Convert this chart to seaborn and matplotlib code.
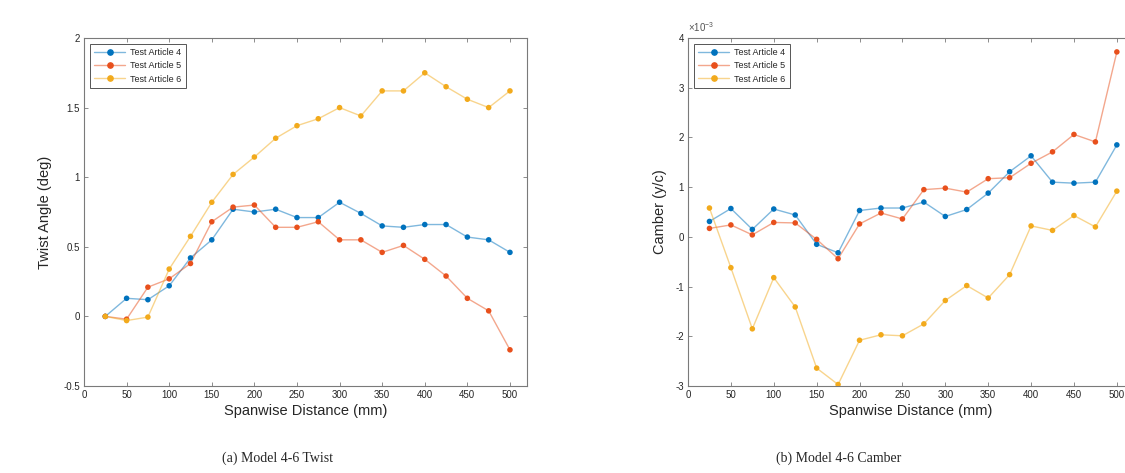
import numpy as np
import pandas as pd
import matplotlib
matplotlib.use("Agg")
import matplotlib.pyplot as plt
from matplotlib.lines import Line2D
from matplotlib.colors import to_rgba
from matplotlib.ticker import FuncFormatter, MultipleLocator
import seaborn as sns

# ---------------- data ----------------
span_mm = [25, 50, 75, 100, 125, 150, 175, 200, 225, 250,
           275, 300, 325, 350, 375, 400, 425, 450, 475, 500]
series_names = ["Test Article 4", "Test Article 5", "Test Article 6"]

twist_ta4 = [0.00, 0.13, 0.12, 0.22, 0.42, 0.55, 0.77, 0.75, 0.77, 0.71,
             0.71, 0.82, 0.74, 0.65, 0.64, 0.66, 0.66, 0.57, 0.55, 0.46]
twist_ta5 = [0.00, -0.02, 0.21, 0.27, 0.38, 0.68, 0.785, 0.80, 0.64, 0.64,
             0.68, 0.55, 0.55, 0.46, 0.51, 0.41, 0.29, 0.13, 0.04, -0.24]
twist_ta6 = [0.00, -0.03, -0.005, 0.34, 0.575, 0.82, 1.02, 1.145, 1.28, 1.37,
             1.42, 1.50, 1.44, 1.62, 1.62, 1.75, 1.65, 1.56, 1.50, 1.62]

camber_ta4 = [0.31, 0.57, 0.15, 0.56, 0.44, -0.15, -0.32, 0.53, 0.58, 0.58,
              0.70, 0.41, 0.55, 0.88, 1.31, 1.63, 1.10, 1.08, 1.10, 1.85]
camber_ta5 = [0.17, 0.24, 0.04, 0.29, 0.28, -0.05, -0.44, 0.26, 0.48, 0.36,
              0.95, 0.98, 0.90, 1.17, 1.19, 1.48, 1.71, 2.06, 1.91, 3.72]
camber_ta6 = [0.58, -0.62, -1.85, -0.82, -1.41, -2.64, -2.97, -2.08, -1.97, -1.99,
              -1.75, -1.28, -0.98, -1.23, -0.76, 0.22, 0.13, 0.43, 0.20, 0.92]
camber_scale = 1e-3

x_ticks = [0, 50, 100, 150, 200, 250, 300, 350, 400, 450, 500]
twist_ticks = [-0.5, 0, 0.5, 1, 1.5, 2]
twist_ticklabels = ["-0.5", "0", "0.5", "1", "1.5", "2"]
captions = ["(a) Model 4-6 Twist", "(b) Model 4-6 Camber"]

colors = ["#0072BD", "#E8501C", "#F2AA1C"]

# ---------------- style ----------------
sns.set_style("white")
plt.rcParams["font.family"] = ["Liberation Sans", "DejaVu Sans"]
plt.rcParams["axes.unicode_minus"] = False
plt.rcParams["mathtext.default"] = "regular"

fig = plt.figure(figsize=(11.25, 4.73), dpi=100)
ax1 = fig.add_axes([84 / 1125, 1 - 386 / 473, 443 / 1125, 348 / 473])
ax2 = fig.add_axes([688 / 1125, 1 - 386 / 473, 446 / 1125, 348 / 473])


def long_df(vals_list, scale=1.0):
    rows = []
    for name, vals in zip(series_names, vals_list):
        for x, v in zip(span_mm, vals):
            rows.append({"x": x, "y": v * scale, "series": name})
    return pd.DataFrame(rows)


df_twist = long_df([twist_ta4, twist_ta5, twist_ta6])
df_camber = long_df([camber_ta4, camber_ta5, camber_ta6], camber_scale)
pal = dict(zip(series_names, colors))

spine_col = "#7a7a7a"
for ax, df in [(ax1, df_twist), (ax2, df_camber)]:
    sns.lineplot(data=df, x="x", y="y", hue="series", palette=pal, ax=ax,
                 linewidth=1.0, alpha=0.5, legend=False, sort=False)
    sns.scatterplot(data=df, x="x", y="y", hue="series", palette=pal, ax=ax,
                    s=16, linewidth=0, legend=False, zorder=3)
    ax.set_xlim(0, 520)
    ax.set_xticks(x_ticks)
    ax.set_xlabel("Spanwise Distance (mm)", fontsize=10.5, color="#262626", labelpad=3)
    ax.tick_params(direction="in", length=3, width=0.6, colors=spine_col,
                   labelcolor="#262626", labelsize=7, top=True, right=True,
                   bottom=True, left=True, pad=3)
    for s in ax.spines.values():
        s.set_color(spine_col)
        s.set_linewidth(0.8)
    handles = [Line2D([0], [0], color=to_rgba(c, 0.5), lw=1.0, marker="o",
                      markersize=3.8, markerfacecolor=c, markeredgecolor=c)
               for c in colors]
    leg = ax.legend(handles, series_names, loc="upper left", fontsize=6.5,
                    frameon=True, fancybox=False, framealpha=1, edgecolor="#555555",
                    handlelength=3.4, handletextpad=0.6, borderpad=0.45,
                    labelspacing=0.45, borderaxespad=0.7)
    leg.get_frame().set_linewidth(0.7)

ax1.set_ylim(-0.5, 2)
ax1.set_yticks(twist_ticks)
ax1.set_yticklabels(twist_ticklabels)
ax1.set_ylabel("Twist Angle (deg)", fontsize=10.5, color="#262626")
ax1.yaxis.set_label_coords(-0.072, 0.5)

ax2.set_ylim(-3e-3, 4e-3)
ax2.yaxis.set_major_locator(MultipleLocator(1e-3))
ax2.yaxis.set_major_formatter(FuncFormatter(lambda v, p: "%d" % round(v / camber_scale)))
ax2.text(0.0, 1.012, r"$\times10^{-3}$", transform=ax2.transAxes, ha="left",
         va="bottom", fontsize=7, color="#555555")
ax2.set_ylabel("Camber (y/c)", fontsize=10.5, color="#262626")
ax2.yaxis.set_label_coords(-0.047, 0.5)

fig.text(0.247, 0.032, captions[0], ha="center", va="center", fontsize=10,
         family=["Liberation Serif", "DejaVu Serif"])
fig.text(0.745, 0.032, captions[1], ha="center", va="center", fontsize=10,
         family=["Liberation Serif", "DejaVu Serif"])

fig.savefig("out.png", dpi=100, facecolor="white")
